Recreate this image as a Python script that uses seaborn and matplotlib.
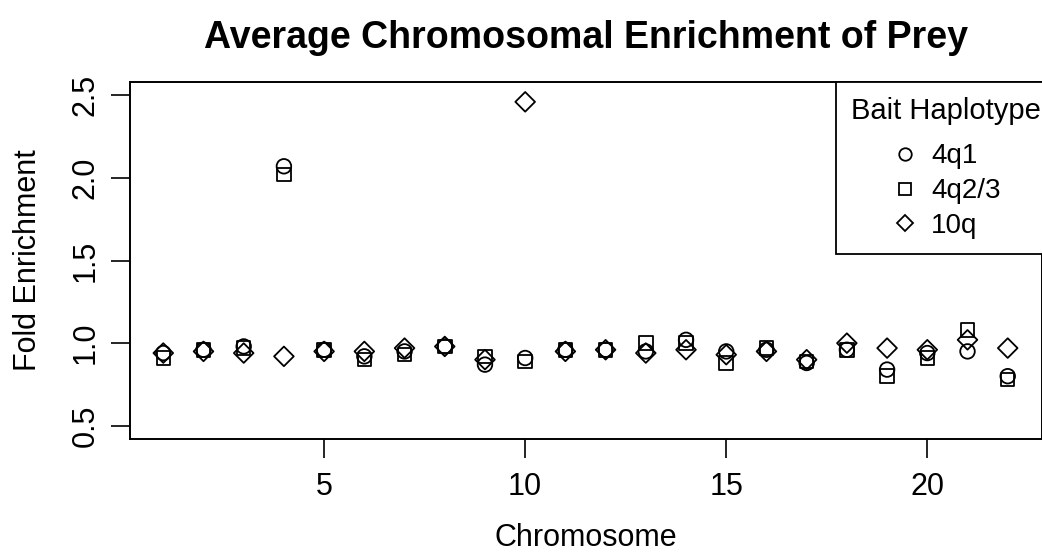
import numpy as np
import pandas as pd
import matplotlib
matplotlib.use("Agg")
import matplotlib.pyplot as plt
from matplotlib.lines import Line2D
import seaborn as sns

# Average fold enrichment per chromosome for each bait haplotype
chromosomes = list(range(1, 23))
enrich_4q1 = [0.94, 0.96, 0.98, 2.07, 0.96, 0.92, 0.95, 0.98, 0.87, 0.91, 0.96,
              0.96, 0.95, 1.02, 0.95, 0.96, 0.88, 0.96, 0.84, 0.94, 0.95, 0.80]
enrich_4q23 = [0.91, 0.96, 0.97, 2.02, 0.96, 0.90, 0.93, 0.98, 0.92, 0.89, 0.96,
               0.96, 1.00, 1.00, 0.88, 0.97, 0.89, 0.96, 0.80, 0.91, 1.08, 0.78]
enrich_10q = [0.94, 0.95, 0.94, 0.92, 0.95, 0.95, 0.97, 0.98, 0.90, 2.46, 0.95,
              0.96, 0.94, 0.96, 0.93, 0.95, 0.90, 1.00, 0.97, 0.96, 1.02, 0.97]
haplotypes = ["4q1", "4q2/3", "10q"]
x_ticks = [5, 10, 15, 20]
y_ticks = [0.5, 1.0, 1.5, 2.0, 2.5]
y_ticklabels = ["0.5", "1.0", "1.5", "2.0", "2.5"]

df = pd.DataFrame({
    "Chromosome": chromosomes * 3,
    "Fold Enrichment": enrich_4q1 + enrich_4q23 + enrich_10q,
    "Haplotype": [h for h in haplotypes for _ in chromosomes],
})

sns.set_theme(style="white")
plt.rcParams["font.family"] = ["Liberation Sans", "DejaVu Sans"]
plt.rcParams["text.color"] = "black"
plt.rcParams["axes.labelcolor"] = "black"

W, H = 1042, 557
fig = plt.figure(figsize=(W / 100, H / 100), dpi=100)
left, right, top, bottom = 129.5, 1041.5, 82, 439
ax = fig.add_axes([left / W, (H - bottom) / H, (right - left) / W, (bottom - top) / H])

marker_style = {"4q1": ("o", 110), "4q2/3": ("s", 95), "10q": ("D", 100)}
for hap in haplotypes:
    m, s = marker_style[hap]
    sub = df[df["Haplotype"] == hap]
    sns.scatterplot(data=sub, x="Chromosome", y="Fold Enrichment", marker=m, s=s,
                    ax=ax, legend=False, color="black")
for coll in ax.collections:
    coll.set_facecolor("none")
    coll.set_edgecolor("black")
    coll.set_linewidth(1.3)

ax.set_xlim(0.16, 22.84)
ax.set_ylim(0.42, 2.58)
ax.set_xticks(x_ticks)
ax.set_xticklabels([str(t) for t in x_ticks])
ax.set_yticks(y_ticks)
ax.set_yticklabels(y_ticklabels, rotation=90, va="center")

for sp in ax.spines.values():
    sp.set_visible(True)
    sp.set_color("black")
    sp.set_linewidth(1.4)

ax.tick_params(axis="both", which="both", direction="out", length=14, width=1.2,
               color="black", labelsize=22, labelcolor="black")
ax.tick_params(axis="x", pad=10, bottom=True)
ax.tick_params(axis="y", pad=7, left=True)

ax.set_xlabel("Chromosome", fontsize=22, color="black", labelpad=15)
ax.set_ylabel("Fold Enrichment", fontsize=22, color="black", labelpad=20)
fig.suptitle("Average Chromosomal Enrichment of Prey", fontsize=27, fontweight="bold",
             color="black", x=(left + right) / 2 / W, y=1 - 20 / H, va="top")

handles = [
    Line2D([], [], linestyle="none", marker="o", markersize=9, markerfacecolor="none",
           markeredgecolor="black", markeredgewidth=1.3),
    Line2D([], [], linestyle="none", marker="s", markersize=8.5, markerfacecolor="none",
           markeredgecolor="black", markeredgewidth=1.3),
    Line2D([], [], linestyle="none", marker="D", markersize=8, markerfacecolor="none",
           markeredgecolor="black", markeredgewidth=1.3),
]
# The legend box runs a little past the right border, flush with the top
leg = ax.legend(handles, haplotypes, title="Bait Haplotype", loc="upper right",
                bbox_to_anchor=(1.016, 1), borderaxespad=0, fontsize=20, title_fontsize=21,
                frameon=True, fancybox=False, handlelength=1.0, handletextpad=0.45,
                labelspacing=0.32, borderpad=0.55)
leg._legend_box.sep = 13
leg.get_frame().set_edgecolor("black")
leg.get_frame().set_linewidth(1.3)
leg.get_frame().set_facecolor("white")
leg.get_frame().set_alpha(1)

fig.savefig("out.png", dpi=100, facecolor="white")
